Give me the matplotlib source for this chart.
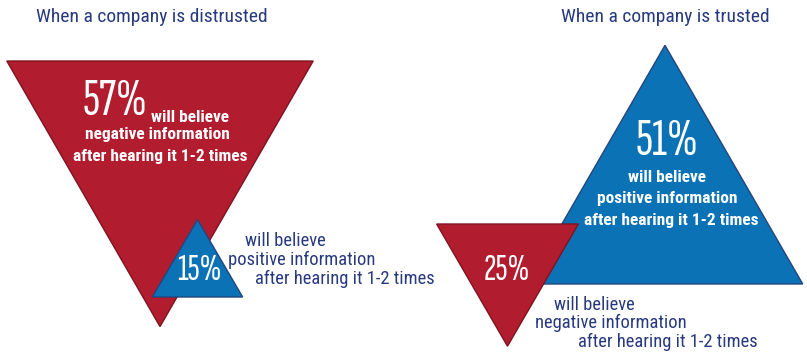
import matplotlib
matplotlib.use("Agg")
import matplotlib.pyplot as plt
from matplotlib.patches import Polygon

# ---- data ----
panel_titles = ["When a company is distrusted", "When a company is trusted"]
percents = [57, 15, 51, 25]
kinds = ["negative", "positive", "positive", "negative"]
descriptions = [
    "will believe\nnegative information\nafter hearing it 1-2 times",
    "will believe\npositive information\nafter hearing it 1-2 times",
    "will believe\npositive information\nafter hearing it 1-2 times",
    "will believe\nnegative information\nafter hearing it 1-2 times",
]

# ---- style / layout ----
RED, RED_EDGE = "#B11C2E", "#7E1422"
BLUE, BLUE_EDGE = "#0B72B5", "#24457E"
NAVY = "#27397F"

BODY = ["Roboto Condensed", "DejaVu Sans"]
PCT = ["Sofia Sans Extra Condensed", "Roboto Condensed", "DejaVu Sans"]
plt.rcParams["font.family"] = BODY

W, H = 807, 357
fig = plt.figure(figsize=(W / 100, H / 100), dpi=100)
ax = fig.add_axes([0, 0, 1, 1])
ax.set_xlim(0, W)
ax.set_ylim(H, 0)
ax.axis("off")

# triangle size scales with percentage
def tri_size(v):
    return 5.145 * v + 13.1, 4.48 * v + 10.2

# anchors: inverted triangles anchored at top-centre, upright at base-centre
anchors = [(160, 61), (197.5, 297), (665, 284), (507.5, 224)]
zorders = [1, 2, 1, 2]

for v, kind, (cx, cy), z in zip(percents, kinds, anchors, zorders):
    w, h = tri_size(v)
    if kind == "negative":
        pts = [(cx - w / 2, cy), (cx + w / 2, cy), (cx, cy + h)]
        fc, ec = RED, RED_EDGE
    else:
        pts = [(cx - w / 2, cy), (cx + w / 2, cy), (cx, cy - h)]
        fc, ec = BLUE, BLUE_EDGE
    ax.add_patch(Polygon(pts, closed=True, facecolor=fc, edgecolor=ec,
                         linewidth=1.0, zorder=z, joinstyle="miter"))

# titles
ax.text(152, 17, panel_titles[0], color=NAVY, fontsize=14, ha="center", va="center")
ax.text(665, 17, panel_titles[1], color=NAVY, fontsize=14, ha="center", va="center")

# percentages
pct_kw = dict(color="white", family=PCT, fontweight="light", ha="center", va="center", zorder=5)
ax.text(115, 102, f"{percents[0]}%", fontsize=38, **pct_kw)
ax.text(199, 271, f"{percents[1]}%", fontsize=27, **pct_kw)
ax.text(667, 142, f"{percents[2]}%", fontsize=38, **pct_kw)
ax.text(507, 271, f"{percents[3]}%", fontsize=27, **pct_kw)

# descriptions
white_kw = dict(color="white", fontsize=12.5, fontweight="bold", ha="center", va="center", zorder=5)
navy_kw = dict(color=NAVY, fontsize=13.3, ha="center", va="center", zorder=5)

d0 = descriptions[0].split("\n")
ax.text(190, 117, d0[0], **white_kw)
ax.text(157, 135, d0[1], **white_kw)
ax.text(160, 156, d0[2], **white_kw)

d1 = descriptions[1].split("\n")
ax.text(285, 241, d1[0], **navy_kw)
ax.text(302, 260, d1[1], **navy_kw)
ax.text(345, 279, d1[2], **navy_kw)

d2 = descriptions[2].split("\n")
ax.text(667, 177, d2[0], **white_kw)
ax.text(667, 198, d2[1], **white_kw)
ax.text(671, 220, d2[2], **white_kw)

d3 = descriptions[3].split("\n")
ax.text(594, 305, d3[0], **navy_kw)
ax.text(611, 323, d3[1], **navy_kw)
ax.text(668, 342, d3[2], **navy_kw)

fig.savefig("out.png", dpi=100, facecolor="white")
